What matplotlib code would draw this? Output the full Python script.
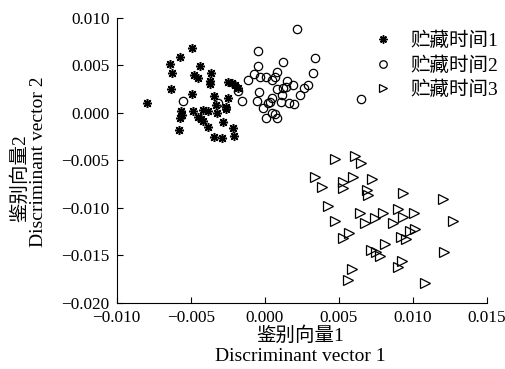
import matplotlib
matplotlib.use("Agg")
import matplotlib.pyplot as plt

plt.rcParams['font.family'] = ['Liberation Serif', 'Noto Sans CJK SC']
plt.rcParams['axes.unicode_minus'] = True

# storage time 1 (asterisks)
x1 = [-0.00489, -0.00572, -0.00638, -0.00437, -0.00628, -0.00363, -0.00478, -0.00449,
      -0.00370, -0.00370, -0.00246, -0.00223, -0.00201, -0.00178, -0.00633, -0.00493,
      -0.00797, -0.00343, -0.00246, -0.00329, -0.00261, -0.00261, -0.00566, -0.00561,
      -0.00572, -0.00482, -0.00415, -0.00381, -0.00324, -0.00449, -0.00432, -0.00419,
      -0.00280, -0.00385, -0.00579, -0.00216, -0.00207, -0.00343, -0.00286]
y1 = [0.00678, 0.00583, 0.00513, 0.00492, 0.00421, 0.00415, 0.00397, 0.00368,
      0.00334, 0.00302, 0.00326, 0.00309, 0.00292, 0.00257, 0.00246, 0.00194,
      0.00099, 0.00179, 0.00152, 0.00081, 0.00057, 0.00036, 0.00018, -0.00024,
      -0.00059, 0.00018, 0.00028, 0.00018, -0.00006, -0.00048, -0.00069, -0.00084,
      -0.00095, -0.00147, -0.00182, -0.00164, -0.00245, -0.00259, -0.00269]

# storage time 2 (circles)
x2 = [0.00216, -0.00047, 0.00340, 0.00126, -0.00047, 0.00328, 0.00081, 0.00070,
      -0.00070, -0.00032, 0.00009, 0.00047, -0.00111, 0.00149, 0.00189, 0.00144,
      0.00126, 0.00295, 0.00266, 0.00239, 0.00081, -0.00039, -0.00182, -0.00155,
      0.00047, 0.00036, 0.00024, 0.00119, -0.00054, 0.00110, 0.00166, 0.00198,
      -0.00009, -0.00554, -0.00314, 0.00047, 0.00070, 0.00081, 0.00009, 0.00651]
y2 = [0.00881, 0.00649, 0.00573, 0.00537, 0.00492, 0.00415, 0.00425, 0.00379,
      0.00407, 0.00379, 0.00379, 0.00344, 0.00344, 0.00334, 0.00292, 0.00274,
      0.00263, 0.00292, 0.00263, 0.00186, 0.00249, 0.00221, 0.00228, 0.00126,
      0.00158, 0.00109, 0.00099, 0.00186, 0.00123, 0.00116, 0.00099, 0.00088,
      0.00053, 0.00123, 0.00105, -0.00006, -0.00017, -0.00059, -0.00053, 0.00144]

# storage time 3 (triangles)
x3 = [0.00475, 0.00610, 0.00651, 0.00340, 0.00599, 0.00723, 0.00531, 0.00527,
      0.00385, 0.00689, 0.00696, 0.00936, 0.01207, 0.00426, 0.00644, 0.00678,
      0.00745, 0.00801, 0.00899, 0.00869, 0.00936, 0.01011, 0.01274, 0.00475,
      0.00572, 0.00531, 0.00919, 0.00955, 0.00982, 0.01016, 0.00718, 0.00752,
      0.00779, 0.00813, 0.01214, 0.00588, 0.00561, 0.00926, 0.00899, 0.01083]
y3 = [-0.00491, -0.00456, -0.00526, -0.00674, -0.00674, -0.00701, -0.00726, -0.00796,
      -0.00785, -0.00814, -0.00866, -0.00842, -0.00912, -0.00982, -0.01053, -0.01158,
      -0.01112, -0.01053, -0.01017, -0.01158, -0.01095, -0.01059, -0.01137, -0.01137,
      -0.01269, -0.01322, -0.01305, -0.01333, -0.01242, -0.01227, -0.01445, -0.01463,
      -0.01508, -0.01382, -0.01463, -0.01648, -0.01761, -0.01558, -0.01627, -0.01789]

labels = ['贮藏时间1', '贮藏时间2', '贮藏时间3']
xticks = [-0.010, -0.005, 0.000, 0.005, 0.010, 0.015]
yticks = [-0.020, -0.015, -0.010, -0.005, 0.000, 0.005, 0.010]

fig = plt.figure(figsize=(5.05, 3.69), dpi=100)
ax = fig.add_axes([0.2311, 0.1797, 0.7327, 0.7723])

ax.plot(x1, y1, ls='none', marker=(8, 2, 0), ms=6.5, mew=1.1, color='black', label=labels[0])
ax.plot(x2, y2, ls='none', marker='o', ms=6, mew=0.9, mfc='none', color='black', label=labels[1])
ax.plot(x3, y3, ls='none', marker='>', ms=6.5, mew=0.9, mfc='none', color='black', label=labels[2])

ax.set_xlim(-0.010, 0.015)
ax.set_ylim(-0.020, 0.010)
ax.set_xticks(xticks)
ax.set_yticks(yticks)
ax.set_xticklabels([f'{v:.3f}'.replace('-', '\u2212') for v in xticks])
ax.set_yticklabels([f'{v:.3f}'.replace('-', '\u2212') for v in yticks])
ax.tick_params(direction='in', length=4, width=0.8, labelsize=12.4)
ax.tick_params(axis='x', pad=5.5)
ax.tick_params(axis='y', pad=5)
for s in ['top', 'right']:
    ax.spines[s].set_visible(False)

fig.text(0.594, 0.0895, '鉴别向量1', ha='center', va='center', fontsize=14)
fig.text(0.594, 0.033, 'Discriminant vector 1', ha='center', va='center', fontsize=14)
fig.text(0.040, 0.518, '鉴别向量2', ha='center', va='center', rotation=90, fontsize=14)
fig.text(0.077, 0.561, 'Discriminant vector 2', ha='center', va='center', rotation=90, fontsize=14)

ax.legend(loc='upper left', bbox_to_anchor=(0.672, 0.985), frameon=False, fontsize=14,
          handlelength=0.8, handletextpad=1.0, labelspacing=0.32, borderpad=0,
          markerscale=0.9)

fig.savefig('out.png', dpi=100)
